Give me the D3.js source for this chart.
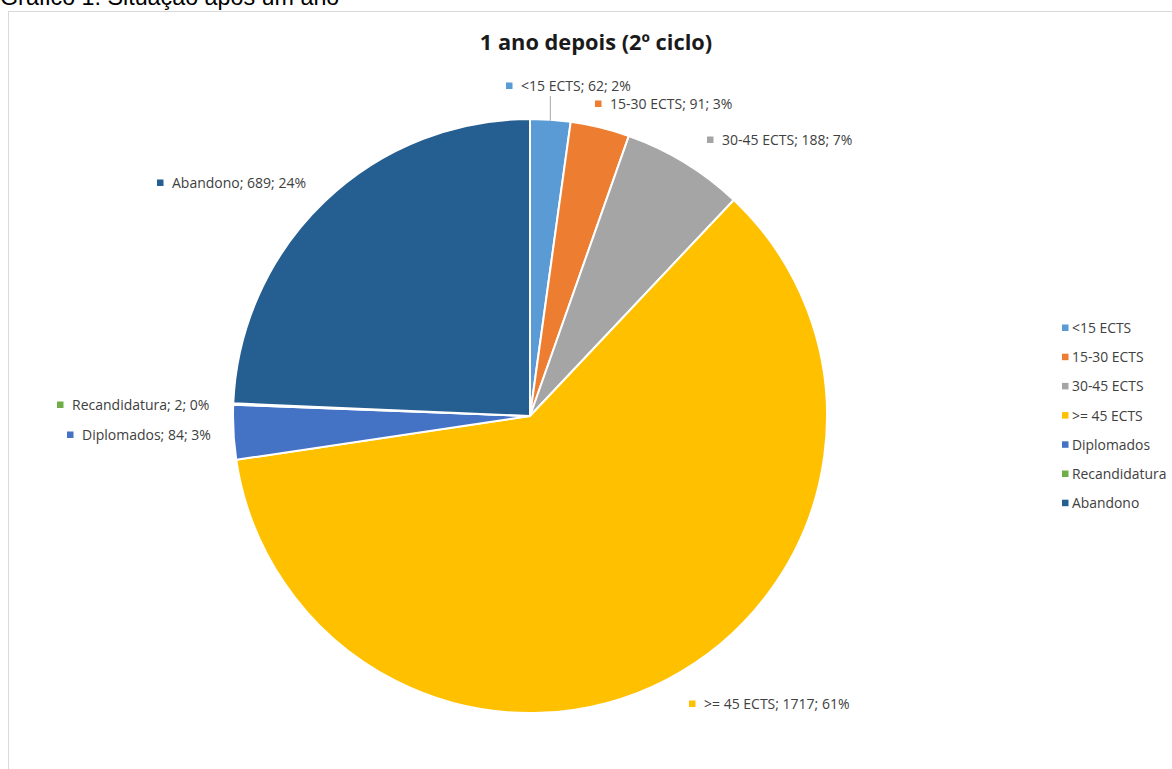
<!DOCTYPE html>
<html><head><meta charset="utf-8">
<script src="https://cdn.jsdelivr.net/npm/d3@7"></script>
<style>html,body{margin:0;padding:0;background:#fff;overflow:hidden}</style>
</head><body>
<svg id="chart" width="1172" height="769"></svg>
<script>
const categories = ["<15 ECTS", "15-30 ECTS", "30-45 ECTS", ">= 45 ECTS", "Diplomados", "Recandidatura", "Abandono"];
const values = [62, 91, 188, 1717, 84, 2, 689];
const percentLabels = ["2%", "3%", "7%", "61%", "3%", "0%", "24%"];
const colors = ["#5B9BD5", "#ED7D31", "#A5A5A5", "#FFC000", "#4472C4", "#70AD47", "#255E91"];
const title = "1 ano depois (2º ciclo)";
const caption = "Gráfico 1: Situação após um ano";

// layout: label anchor (left x of marker, centre y)
const labelPos = [[506, 86], [595, 104], [707, 140], [689, 704], [67, 435], [57, 405], [157, 183]];

const svg = d3.select("#chart");
const font = "'Open Sans', sans-serif";

svg.append("text").attr("x", 0).attr("y", 5).attr("font-family", "'Liberation Sans', Arial, sans-serif")
  .attr("font-size", 23.3).attr("fill", "#000").text(caption);

svg.append("rect").attr("x", 8.5).attr("y", 11.5).attr("width", 1200).attr("height", 800)
  .attr("fill", "#fff").attr("stroke", "#d9d9d9").attr("stroke-width", 1);

svg.append("text").attr("x", 596).attr("y", 50).attr("text-anchor", "middle")
  .attr("font-family", font).attr("font-weight", "bold").attr("font-size", 21.8).attr("fill", "#1a1a1a").text(title);

const cx = 530, cy = 416, R = 297;
const data = categories.map((c, i) => ({cat: c, value: values[i], pct: percentLabels[i], color: colors[i], i}));
const pie = d3.pie().value(d => d.value).sort(null);
const arc = d3.arc().innerRadius(0).outerRadius(R);
const arcs = pie(data);

const g = svg.append("g").attr("transform", `translate(${cx},${cy})`);
g.selectAll("path").data(arcs).join("path")
  .attr("d", arc).attr("fill", d => d.data.color)
  .attr("stroke", "#fff").attr("stroke-width", 2).attr("stroke-linejoin", "round");

// leader line for first slice
const a0 = arcs[0];
const mid0 = (a0.startAngle + a0.endAngle) / 2;
const lx = cx + Math.sin(mid0) * (R - 1);
const ly = cy - Math.cos(mid0) * (R - 1);
svg.append("line").attr("x1", lx).attr("y1", ly).attr("x2", lx).attr("y2", labelPos[0][1] + 10)
  .attr("stroke", "#a6a6a6").attr("stroke-width", 1);

const lbl = svg.append("g");
arcs.forEach((a, i) => {
  const [x, y] = labelPos[i];
  lbl.append("rect").attr("x", x).attr("y", y - 3.5).attr("width", 6.5).attr("height", 6.5).attr("fill", a.data.color);
  lbl.append("text").attr("x", x + 15).attr("y", y + 5).attr("font-family", font).attr("font-size", 14)
    .attr("fill", "#404040").text(`${a.data.cat}; ${a.data.value}; ${a.data.pct}`);
});

const leg = svg.append("g");
categories.forEach((c, i) => {
  const y = 328 + i * 29.2;
  leg.append("rect").attr("x", 1062).attr("y", y - 3.5).attr("width", 6.5).attr("height", 6.5).attr("fill", colors[i]);
  leg.append("text").attr("x", 1072).attr("y", y + 5).attr("font-family", font).attr("font-size", 13.9)
    .attr("fill", "#404040").text(c);
});
</script>
</body></html>
